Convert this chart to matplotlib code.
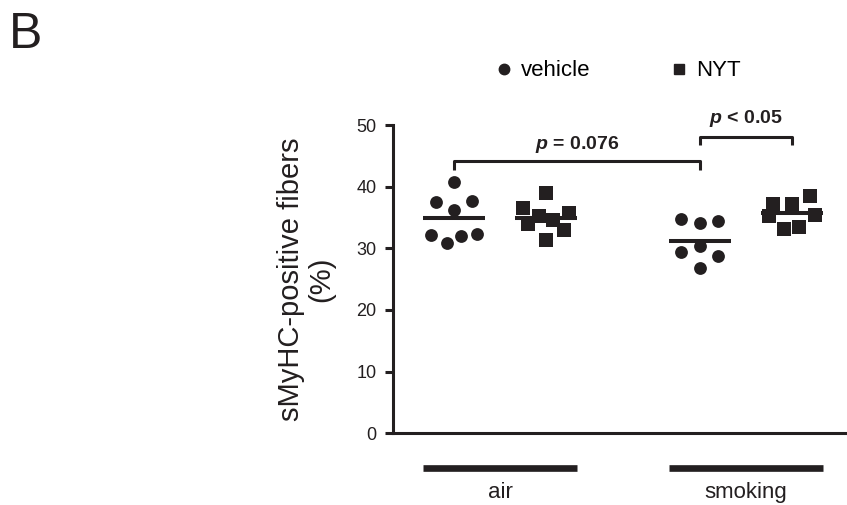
import matplotlib
matplotlib.use("Agg")
import matplotlib.pyplot as plt
from matplotlib.lines import Line2D

plt.rcParams['font.family'] = ['Liberation Sans', 'DejaVu Sans']
plt.rcParams['mathtext.fontset'] = 'custom'
plt.rcParams['mathtext.rm'] = 'Liberation Sans'
plt.rcParams['mathtext.it'] = 'Liberation Sans:italic'
plt.rcParams['mathtext.bf'] = 'Liberation Sans:bold'
plt.rcParams['mathtext.bfit'] = 'Liberation Sans:italic:bold'

ink = '#231f20'

# values (%)
air_vehicle = [40.7, 37.5, 37.6, 36.2, 32.2, 30.9, 32.0, 32.4]
air_nyt = [38.9, 36.5, 35.3, 35.7, 34.6, 33.9, 32.9, 31.4]
smoke_vehicle = [34.7, 34.1, 34.4, 30.3, 29.4, 28.7, 26.8]
smoke_nyt = [38.5, 37.2, 37.2, 35.3, 35.4, 33.2, 33.4]

# horizontal jitter of each point inside its column, as drawn
air_vehicle_dx = [0.0, -0.2, 0.2, 0.0, -0.25, -0.08, 0.08, 0.25]
air_nyt_dx = [0.0, -0.25, -0.08, 0.25, 0.08, -0.2, 0.2, 0.0]
smoke_vehicle_dx = [-0.2, 0.0, 0.2, 0.0, -0.2, 0.2, 0.0]
smoke_nyt_dx = [0.2, -0.2, 0.0, -0.25, 0.25, -0.08, 0.08]

groups = ['air', 'smoking']
pos = [0, 1, 2.67, 3.67]
series = [air_vehicle, air_nyt, smoke_vehicle, smoke_nyt]
jitter = [air_vehicle_dx, air_nyt_dx, smoke_vehicle_dx, smoke_nyt_dx]
markers = ['o', 's', 'o', 's']

fig = plt.figure(figsize=(8.47, 5.05), dpi=100)
ax = fig.add_axes([393/847, 1 - 433.3/505, 1 - 393/847, (433.3 - 125)/505])

for p, vals, dx, m in zip(pos, series, jitter, markers):
    xs = [p + d for d in dx]
    ax.scatter(xs, vals, s=85 if m == 'o' else 90, marker=m, color=ink,
               linewidths=0, clip_on=False, zorder=3)
    mean = sum(vals) / len(vals)
    ax.plot([p - 0.335, p + 0.335], [mean, mean], color=ink, lw=2.9,
            solid_capstyle='butt', zorder=2)

# significance brackets
def bracket(x1, x2, y, drop, label, ty):
    ax.plot([x1, x1, x2, x2], [y - drop, y, y, y - drop], color=ink, lw=2.2,
            clip_on=False, solid_capstyle='butt')
    ax.text((x1 + x2) / 2, ty, label, ha='center', va='center',
            fontsize=14, fontweight='bold', color=ink)

bracket(pos[0], pos[2], 44.1, 1.4, r'$\mathbfit{p}$ = 0.076', 46.8)
bracket(pos[2], pos[3], 48.1, 1.3, r'$\mathbfit{p}$ < 0.05', 51.1)

ax.set_xlim(-0.663, 4.27)
ax.set_ylim(0, 50)
ax.set_yticks([0, 10, 20, 30, 40, 50])
ax.set_xticks([])
for s in ['top', 'right']:
    ax.spines[s].set_visible(False)
for s in ['left', 'bottom']:
    ax.spines[s].set_linewidth(2.2)
    ax.spines[s].set_color(ink)
ax.tick_params(axis='y', length=6, width=2.2, color=ink, labelsize=13,
               labelcolor=ink, pad=6)

# group bars and labels under the axis
for g, (a, b) in zip(groups, [(pos[0], pos[1]), (pos[2], pos[3])]):
    ax.plot([a - 0.335, b + 0.335], [-5.7, -5.7], color=ink, lw=4.8,
            solid_capstyle='butt', clip_on=False)
    ax.text((a + b) / 2, -9.6, g, ha='center', va='center', fontsize=16,
            color=ink)

ax.text(-0.192, 0.5, 'sMyHC-positive fibers\n(%)', transform=ax.transAxes,
        rotation=90, ha='center', va='center', multialignment='center',
        fontsize=21, color=ink, linespacing=1.1)

handles = [Line2D([], [], marker='o', ls='', color=ink, markersize=7.5),
           Line2D([], [], marker='s', ls='', color=ink, markersize=7.5)]
fig.legend(handles, ['vehicle', 'NYT'], loc='center', ncol=2,
           bbox_to_anchor=(618/847, 1 - 71/505), frameon=False, fontsize=16,
           handlelength=0.8, handletextpad=0.35, columnspacing=3.6)

fig.text(9/847, 1 - 48.3/505, 'B', fontsize=36, va='baseline', ha='left',
         color=ink)

fig.savefig('out.png', dpi=100)
